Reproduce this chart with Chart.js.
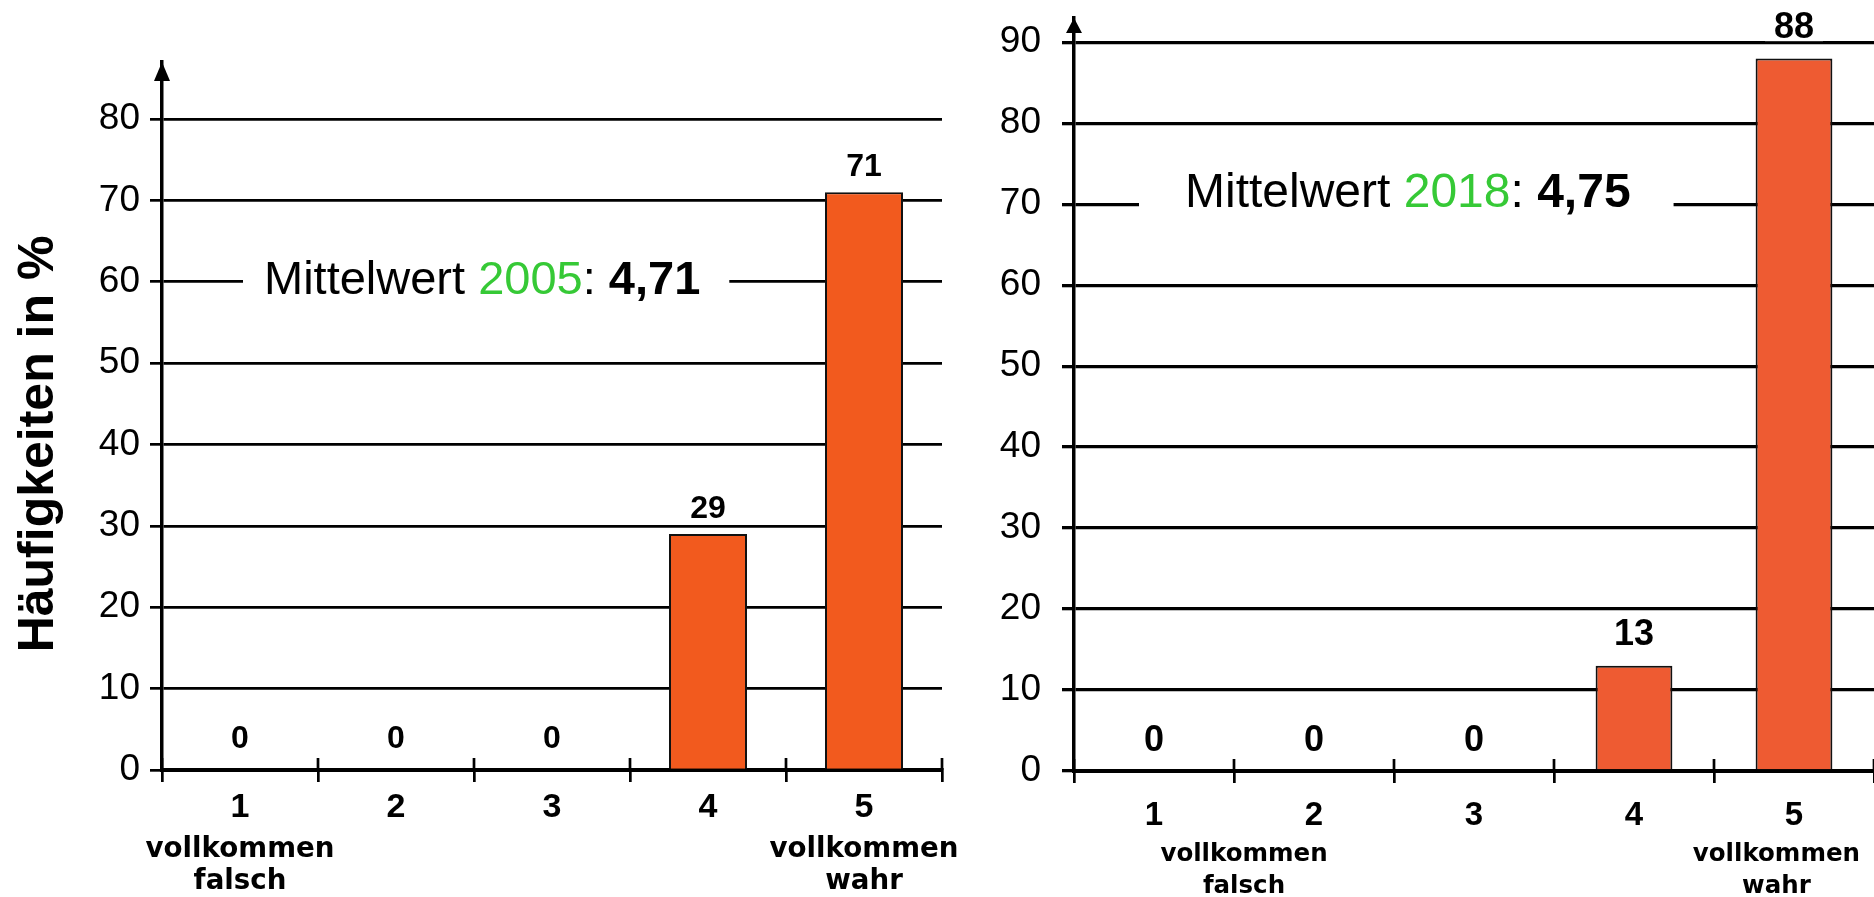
<!DOCTYPE html>
<html>
<head>
<meta charset="utf-8">
<script src="https://cdn.jsdelivr.net/npm/chart.js@4.4.1/dist/chart.umd.min.js"></script>
<style>
  html, body { margin: 0; padding: 0; background: #fff; }
  #wrap { position: relative; width: 1874px; height: 897px; }
  canvas { position: absolute; top: 0; }
  #chart2005 { left: 0; }
  #chart2018 { left: 945px; }
</style>
</head>
<body>
<div id="wrap">
  <canvas id="chart2005" width="975" height="897"></canvas>
  <canvas id="chart2018" width="929" height="897"></canvas>
</div>
<script>
// answers 1..5, share in percent
const categories = ['1', '2', '3', '4', '5'];
const values2005 = [0, 0, 0, 29, 71];
const values2018 = [0, 0, 0, 13, 88];
const yTicks2005 = [0, 10, 20, 30, 40, 50, 60, 70, 80];
const yTicks2018 = [0, 10, 20, 30, 40, 50, 60, 70, 80, 90];
const endLabels = [['vollkommen', 'falsch'], ['vollkommen', 'wahr']];
const meanYears = ['2005', '2018'];
const meanValues = ['4,71', '4,75'];
const yTitle = 'Häufigkeiten in %';

const SANS = '"Liberation Sans", Arial, sans-serif';
const WIDE = '"DejaVu Sans", Verdana, sans-serif';
const GREEN = '#36c936';

// extra drawing: arrow, inner ticks, value labels, mean text, end labels, title
const decor = {
    id: 'decor',
    afterDraw(chart, args, o) {
        const ctx = chart.ctx;
        const area = chart.chartArea;
        const x = chart.scales.x;
        const y = chart.scales.y;
        ctx.save();
        ctx.fillStyle = '#000';
        ctx.strokeStyle = '#000';

        // arrow on top of the y axis
        ctx.beginPath();
        ctx.moveTo(area.left, area.top);
        ctx.lineTo(area.left - o.arrowW / 2, area.top + o.arrowH);
        ctx.lineTo(area.left + o.arrowW / 2, area.top + o.arrowH);
        ctx.closePath();
        ctx.fill();

        // tick marks above the x axis
        ctx.lineWidth = 2.7;
        for (let i = 0; i <= categories.length; i++) {
            const px = Math.round(x.getPixelForValue(i - 0.5));
            ctx.beginPath();
            ctx.moveTo(px, x.top - 12);
            ctx.lineTo(px, x.top);
            ctx.stroke();
        }

        // value labels with white box
        const meta = chart.getDatasetMeta(0);
        ctx.textAlign = 'center';
        ctx.textBaseline = 'alphabetic';
        ctx.font = 'bold ' + o.valueSize + 'px ' + SANS;
        meta.data.forEach((bar, i) => {
            const v = chart.data.datasets[0].data[i];
            const cy = bar.y - (v === 0 ? o.zeroOffset : o.valueOffset);
            ctx.fillStyle = '#fff';
            ctx.fillRect(bar.x - o.valueBox[0] / 2, cy - o.valueBox[1] / 2, o.valueBox[0], o.valueBox[1]);
            ctx.fillStyle = '#000';
            ctx.fillText(String(v), bar.x, cy + 0.358 * o.valueSize);
        });

        // "Mittelwert 2005: 4,71" on a grid line
        const gy = y.getPixelForValue(o.meanAt);
        const tx = area.left + o.meanX;
        const parts = [
            ['Mittelwert ', '', '#000'],
            [o.year, '', GREEN],
            [': ', '', '#000'],
            [o.mean, 'bold ', '#000']
        ];
        let w = 0;
        parts.forEach(p => {
            ctx.font = p[1] + o.meanSize + 'px ' + SANS;
            w += ctx.measureText(p[0]).width;
        });
        ctx.fillStyle = '#fff';
        ctx.fillRect(tx - o.meanGap[0], gy - 6, w + o.meanGap[0] + o.meanGap[1], 12);
        ctx.textAlign = 'left';
        let cx = tx;
        parts.forEach(p => {
            ctx.font = p[1] + o.meanSize + 'px ' + SANS;
            ctx.fillStyle = p[2];
            ctx.fillText(p[0], cx, gy + o.meanDy);
            cx += ctx.measureText(p[0]).width;
        });

        // end labels under the x axis
        ctx.fillStyle = '#000';
        ctx.textAlign = 'center';
        ctx.font = 'bold ' + o.endSize + 'px ' + WIDE;
        endLabels.forEach((lines, k) => {
            const px = x.getPixelForValue(o.endIdx[k]);
            lines.forEach((t, j) => ctx.fillText(t, px, o.endBase[j]));
        });

        // y axis title
        if (o.title) {
            ctx.translate(o.title[0], o.title[1]);
            ctx.rotate(-Math.PI / 2);
            ctx.font = 'bold 50px ' + SANS;
            ctx.fillText(yTitle, 0, 0);
        }
        ctx.restore();
    }
};

function makeChart(id, values, yTicks, s) {
    new Chart(document.getElementById(id), {
        type: 'bar',
        data: {
            labels: categories,
            datasets: [{
                data: values,
                backgroundColor: s.barColor,
                borderColor: '#111',
                borderWidth: 2,
                barPercentage: 1,
                categoryPercentage: s.barShare
            }]
        },
        options: {
            responsive: false,
            animation: false,
            layout: { padding: { top: s.top, right: s.right, left: 0, bottom: 0 } },
            plugins: {
                legend: { display: false },
                tooltip: { enabled: false },
                decor: s.decor
            },
            scales: {
                x: {
                    afterFit: sc => { sc.height = s.xHeight; sc.paddingLeft = 0; sc.paddingRight = 0; },
                    grid: { offset: true, drawOnChartArea: false, tickLength: 12, lineWidth: 2.7, color: '#000' },
                    border: { display: true, color: '#000', width: 4 },
                    ticks: {
                        color: '#000', padding: s.xPad, maxRotation: 0, autoSkip: false,
                        font: { family: SANS, size: s.xSize, weight: 'bold' }
                    }
                },
                y: {
                    min: 0,
                    max: s.yMax,
                    afterBuildTicks: sc => { sc.ticks = yTicks.map(v => ({ value: v })); },
                    afterFit: sc => { sc.width = s.yWidth; sc.paddingTop = 0; sc.paddingBottom = 0; },
                    grid: { color: '#000', lineWidth: s.gridW, tickLength: 12 },
                    border: { display: true, color: '#000', width: 3.5 },
                    ticks: { color: '#000', padding: s.yPad, font: { family: SANS, size: 37 } }
                }
            }
        },
        plugins: [decor]
    });
}

makeChart('chart2005', values2005, yTicks2005, {
    barColor: '#f25a1e', barShare: 0.5,
    top: 62, right: 33, xHeight: 127, yWidth: 162, yMax: 87,
    xPad: 5, xSize: 34, yPad: 10, gridW: 2.7,
    decor: {
        arrowW: 16, arrowH: 19,
        valueSize: 32, valueOffset: 27.5, zeroOffset: 33, valueBox: [60, 30],
        meanAt: 60, meanX: 102, meanDy: 12, meanSize: 47, meanGap: [21, 29],
        year: meanYears[0], mean: meanValues[0],
        endIdx: [0, 4], endSize: 27.7, endBase: [857, 889],
        title: [53, 444]
    }
});

makeChart('chart2018', values2018, yTicks2018, {
    barColor: '#ee5b32', barShare: 0.48,
    top: 18, right: 0, xHeight: 126, yWidth: 129, yMax: 93,
    xPad: 13, xSize: 33, yPad: 21, gridW: 3.3,
    decor: {
        arrowW: 16, arrowH: 15,
        valueSize: 36, valueOffset: 33.3, zeroOffset: 33.3, valueBox: [58, 32],
        meanAt: 70, meanX: 111, meanDy: 3, meanSize: 48, meanGap: [46, 43],
        year: meanYears[1], mean: meanValues[1],
        endIdx: [0.5625, 3.89], endSize: 24.5, endBase: [861, 893],
        title: null
    }
});
</script>
</body>
</html>
